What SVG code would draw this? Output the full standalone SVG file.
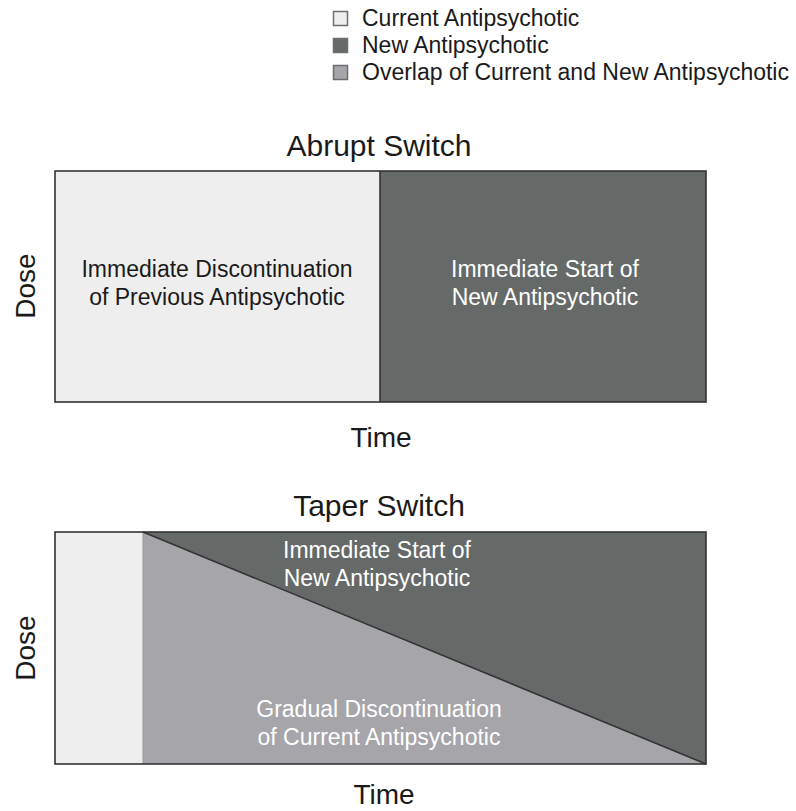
<svg xmlns="http://www.w3.org/2000/svg" width="796" height="811" viewBox="0 0 796 811">
<style>
text{font-family:"Liberation Sans",Arial,sans-serif;fill:#1a1a1a}
.leg{font-size:23px}
.title{font-size:30px;text-anchor:middle}
.axis{font-size:28px;text-anchor:middle}
.lbl{font-size:23px;text-anchor:middle}
.w{fill:#ffffff}
.cur{fill:#eeeeee}
.new{fill:#656a69}
.ovl{fill:#a6a5aa}
.frame{fill:none;stroke:#333333;stroke-width:1.6}
.sq{stroke:#6e6e6e;stroke-width:1.5}
</style>
<rect width="796" height="811" fill="#ffffff"/>
<g id="legend">
<rect class="cur sq" x="333.5" y="11.5" width="14" height="14"/>
<rect class="new sq" x="333.5" y="38.5" width="14" height="14"/>
<rect class="ovl sq" x="333.5" y="65.5" width="14" height="14"/>
<text class="leg" x="362" y="26">Current Antipsychotic</text>
<text class="leg" x="362" y="53">New Antipsychotic</text>
<text class="leg" x="362" y="80">Overlap of Current and New Antipsychotic</text>
</g>
<g id="abrupt">
<text class="title" x="379" y="156">Abrupt Switch</text>
<g id="abrupt-current">
<rect class="cur" x="55" y="171" width="325" height="231"/>
<text class="lbl" x="217" y="277">Immediate Discontinuation</text>
<text class="lbl" x="217" y="305">of Previous Antipsychotic</text>
</g>
<g id="abrupt-new">
<rect class="new" x="380" y="171" width="326" height="231"/>
<text class="lbl w" x="545" y="277">Immediate Start of</text>
<text class="lbl w" x="545" y="305">New Antipsychotic</text>
</g>
<rect class="frame" x="55" y="171" width="651" height="231"/>
<line class="frame" x1="380" y1="171" x2="380" y2="402"/>
<text class="axis" transform="translate(35,286) rotate(-90)">Dose</text>
<text class="axis" x="381" y="447">Time</text>
</g>
<g id="taper">
<text class="title" x="379" y="516">Taper Switch</text>
<g id="taper-current">
<rect class="cur" x="55" y="532" width="88" height="232"/>
</g>
<g id="taper-overlap">
<polygon class="ovl" points="143,532 706,764 143,764"/>
<text class="lbl w" x="379" y="717">Gradual Discontinuation</text>
<text class="lbl w" x="379" y="745">of Current Antipsychotic</text>
</g>
<g id="taper-new">
<polygon class="new" points="143,532 706,532 706,764"/>
<text class="lbl w" x="377" y="558">Immediate Start of</text>
<text class="lbl w" x="377" y="586">New Antipsychotic</text>
</g>
<line x1="143" y1="532" x2="143" y2="764" stroke="#999999" stroke-width="1"/>
<rect class="frame" x="55" y="532" width="651" height="232"/>
<line class="frame" x1="143" y1="532" x2="706" y2="764"/>
<text class="axis" transform="translate(35,648) rotate(-90)">Dose</text>
<text class="axis" x="384" y="804">Time</text>
</g>
</svg>
